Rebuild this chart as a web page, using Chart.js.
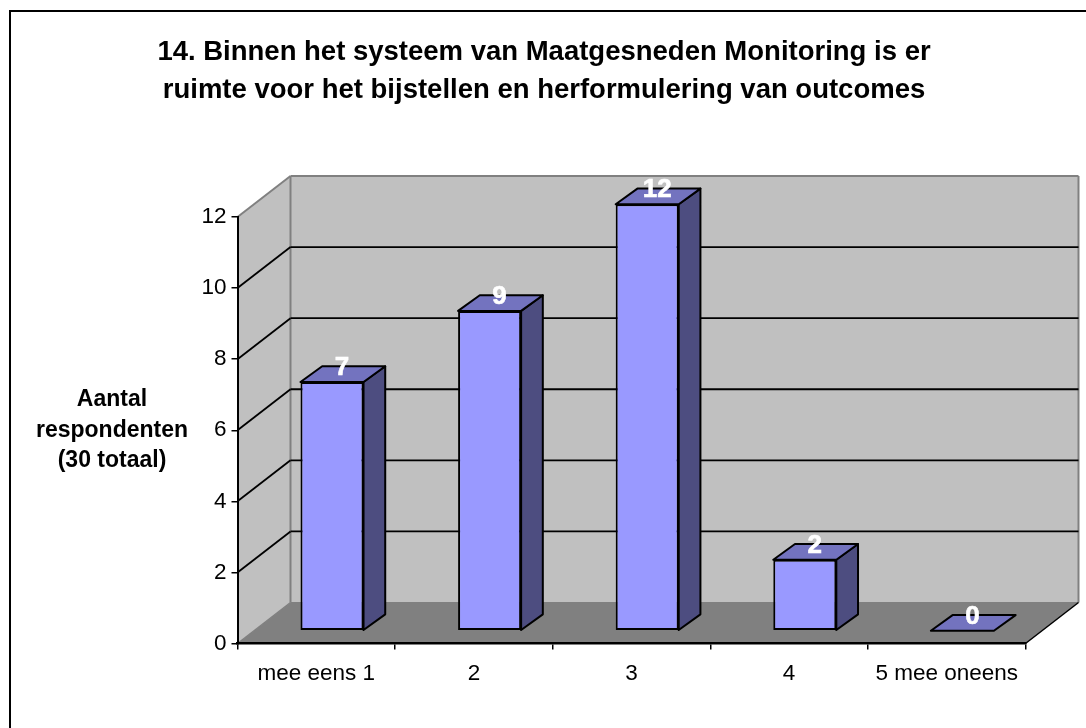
<!DOCTYPE html>
<html>
<head>
<meta charset="utf-8">
<style>
  body { margin: 0; background: #fff; }
  canvas { display: block; }
</style>
<script src="https://cdn.jsdelivr.net/npm/chart.js@4"></script>
</head>
<body>
<canvas id="chart" width="1086" height="728"></canvas>
<script>
// data
const categories = ["mee eens 1", "2", "3", "4", "5 mee oneens"];
const counts = [7, 9, 12, 2, 0];
const yTicks = [0, 2, 4, 6, 8, 10, 12];
const titleLines = ["14. Binnen het systeem van Maatgesneden Monitoring is er", "ruimte voor het bijstellen en herformulering van outcomes"];
const yTitleLines = ["Aantal", "respondenten", "(30 totaal)"];

const FONT = '"Liberation Sans", Arial, sans-serif';
// depth of the floor, and of one bar, in pixels
const DEPTH = { x: 53, y: 41 };
const BAR_DEPTH = { x: 21.7, y: 15.7 };
const BAR_SHIFT = { x: 15.7, y: 12.7 };

function poly(ctx, pts, fill, stroke, lw) {
  ctx.beginPath();
  pts.forEach((p, i) => i ? ctx.lineTo(p[0], p[1]) : ctx.moveTo(p[0], p[1]));
  ctx.closePath();
  if (fill) { ctx.fillStyle = fill; ctx.fill(); }
  if (stroke) { ctx.strokeStyle = stroke; ctx.lineWidth = lw || 1; ctx.stroke(); }
}

function line(ctx, x1, y1, x2, y2, color, lw) {
  ctx.beginPath();
  ctx.moveTo(x1, y1);
  ctx.lineTo(x2, y2);
  ctx.strokeStyle = color;
  ctx.lineWidth = lw;
  ctx.stroke();
}

// frame, walls, floor and gridlines
const walls = {
  id: "walls",
  beforeDraw(chart) {
    const { ctx, chartArea: a, scales: { y } } = chart;
    const dx = DEPTH.x, dy = DEPTH.y;
    ctx.save();
    line(ctx, 10, 11, 1086, 11, "#000", 2);
    line(ctx, 10, 10, 10, 728, "#000", 2);

    poly(ctx, [[a.left, a.top], [a.left + dx, a.top - dy], [a.left + dx, a.bottom - dy], [a.left, a.bottom]], "#c0c0c0");
    poly(ctx, [[a.left + dx, a.top - dy], [a.right + dx, a.top - dy], [a.right + dx, a.bottom - dy], [a.left + dx, a.bottom - dy]], "#c0c0c0");
    poly(ctx, [[a.left, a.bottom], [a.left + dx, a.bottom - dy], [a.right + dx, a.bottom - dy], [a.right, a.bottom]], "#808080");

    // wall edges
    line(ctx, a.left, a.top, a.left + dx, a.top - dy, "#808080", 2);
    line(ctx, a.left + dx, a.top - dy, a.right + dx, a.top - dy, "#808080", 2);
    line(ctx, a.left + dx, a.top - dy, a.left + dx, a.bottom - dy, "#808080", 2);
    line(ctx, a.right + dx, a.top - dy, a.right + dx, a.bottom - dy, "#808080", 2);
    line(ctx, a.left + dx, a.bottom - dy, a.right + dx, a.bottom - dy, "#808080", 1);
    line(ctx, a.left, a.bottom, a.left + dx, a.bottom - dy, "#808080", 1.5);
    line(ctx, a.right, a.bottom, a.right + dx, a.bottom - dy, "#000", 1.5);

    yTicks.slice(1, -1).forEach(v => {
      const py = y.getPixelForValue(v);
      line(ctx, a.left, py, a.left + dx, py - dy, "#000", 1.8);
      line(ctx, a.left + dx, py - dy, a.right + dx, py - dy, "#000", 1.8);
    });
    ctx.restore();
  },
  // bars sit part way into the floor, so they are moved back as a group
  beforeDatasetsDraw(chart) {
    const ctx = chart.ctx;
    ctx.save();
    ctx.translate(BAR_SHIFT.x, -BAR_SHIFT.y);
    chart.getDatasetMeta(0).data.forEach(bar => {
      const l = bar.x - bar.width / 2, r = bar.x + bar.width / 2;
      const t = bar.y, b = bar.base;
      const dx = BAR_DEPTH.x, dy = BAR_DEPTH.y;
      ctx.lineJoin = "round";
      if (b - t > 0) poly(ctx, [[r, t], [r + dx, t - dy], [r + dx, b - dy], [r, b]], "#4d4d80", "#000", 2);
      poly(ctx, [[l, t], [l + dx, t - dy], [r + dx, t - dy], [r, t]], "#7373bf", "#000", 2);
    });
  },
  afterDatasetsDraw(chart) {
    const ctx = chart.ctx;
    ctx.restore();
    // value labels
    ctx.save();
    ctx.font = "bold 26px " + FONT;
    ctx.fillStyle = "#fff";
    ctx.strokeStyle = "#fff";
    ctx.lineWidth = 0.6;
    ctx.textAlign = "center";
    ctx.textBaseline = "middle";
    chart.getDatasetMeta(0).data.forEach((bar, i) => {
      const tx = bar.x + BAR_SHIFT.x + 10, ty = bar.y - BAR_SHIFT.y - 14;
      ctx.fillText(String(counts[i]), tx, ty);
      ctx.strokeText(String(counts[i]), tx, ty);
    });
    ctx.restore();
  },
  afterDraw(chart) {
    const ctx = chart.ctx;
    ctx.save();
    ctx.fillStyle = "#000";
    ctx.textAlign = "center";
    ctx.textBaseline = "middle";
    ctx.font = "bold 27.5px " + FONT;
    titleLines.forEach((t, i) => ctx.fillText(t, 544, 52 + i * 38.5));
    ctx.font = "bold 23px " + FONT;
    yTitleLines.forEach((t, i) => ctx.fillText(t, 112, 400 + i * 30.5));
    ctx.restore();
  }
};

new Chart(document.getElementById("chart"), {
  type: "bar",
  data: {
    labels: categories,
    datasets: [{
      data: counts,
      backgroundColor: "#9999ff",
      borderColor: "#000",
      borderWidth: 2,
      borderSkipped: false,
      barPercentage: 0.4,
      categoryPercentage: 1
    }]
  },
  options: {
    responsive: false,
    animation: false,
    layout: { padding: { left: 10, right: 60.5, top: 217, bottom: 0 } },
    plugins: {
      legend: { display: false },
      tooltip: { enabled: false },
      title: { display: false }
    },
    scales: {
      x: {
        grid: { display: true, drawOnChartArea: false, color: "#000", tickLength: 6, lineWidth: 1.5 },
        border: { color: "#000", width: 2.5 },
        ticks: { color: "#000", font: { family: FONT, size: 22.5 }, maxRotation: 0, padding: 10.5 },
        afterFit: s => { s.height = 84.5; }
      },
      y: {
        min: 0,
        max: 12,
        grid: { display: true, drawOnChartArea: false, color: "#000", tickLength: 6, lineWidth: 1.5 },
        border: { color: "#000", width: 2 },
        ticks: { color: "#000", font: { family: FONT, size: 22.5 }, stepSize: 2, padding: 5 },
        afterFit: s => { s.width = 227.5; }
      }
    }
  },
  plugins: [walls]
});
</script>
</body>
</html>
